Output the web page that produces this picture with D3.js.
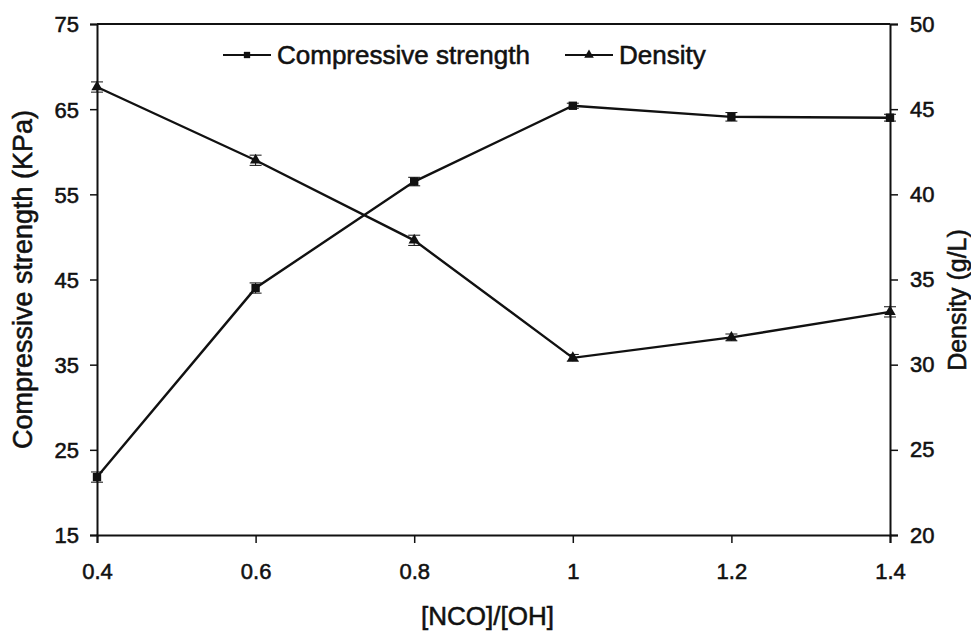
<!DOCTYPE html>
<html>
<head>
<meta charset="utf-8">
<script src="https://cdn.jsdelivr.net/npm/d3@7"></script>
<style>
  body { margin: 0; background: #fff; }
  text { font-family: "Liberation Sans", Arial, sans-serif; fill: #111; stroke: #111; stroke-width: 0.55px; }
</style>
</head>
<body>
<div class="viz"></div>
<script>
// data
var ratio = [0.4, 0.6, 0.8, 1.0, 1.2, 1.4]
var strength = [21.8, 44.0, 56.5, 65.4, 64.1, 64.0]
var strengthErr = [0.6, 0.6, 0.5, 0.3, 0.5, 0.4]
var density = [46.3, 42.0, 37.3, 30.4, 31.6, 33.1]
var densityErr = [0.3, 0.3, 0.3, 0.2, 0.2, 0.3]
var xTicks = [0.4, 0.6, 0.8, 1.0, 1.2, 1.4]
var leftTicks = [15, 25, 35, 45, 55, 65, 75]
var rightTicks = [20, 25, 30, 35, 40, 45, 50]

var W = 971, H = 633
var margin = {top: 24, right: 81, bottom: 98, left: 97},
    width = W - margin.left - margin.right,
    height = H - margin.top - margin.bottom

var svg = d3.select(".viz")
  .append("svg")
    .attr("width", W)
    .attr("height", H)
  .append("g")
    .attr("transform", "translate(" + margin.left + "," + margin.top + ")")

var x = d3.scaleLinear().domain([0.4, 1.4]).range([0, width])
var y = d3.scaleLinear().domain([15, 75]).range([height, 0])
var y2 = d3.scaleLinear().domain([20, 50]).range([height, 0])

// frame top line
svg.append("line")
  .attr("x1", 0).attr("x2", width).attr("y1", 0).attr("y2", 0)
  .attr("stroke", "#111").attr("stroke-width", 2)

function styleAxis(g) {
  g.select(".domain").attr("stroke", "#111").attr("stroke-width", 2)
  g.selectAll(".tick line").attr("stroke", "#111").attr("stroke-width", 1.5)
  g.selectAll(".tick text").style("font-size", "22px")
}

svg.append("g")
  .attr("transform", "translate(0," + height + ")")
  .call(d3.axisBottom(x).tickValues(xTicks).tickSizeOuter(0).tickSize(8).tickPadding(20)
    .tickFormat(d => d == 1 ? "1" : d3.format(".1f")(d)))
  .call(styleAxis)

svg.append("g")
  .call(d3.axisLeft(y).tickValues(leftTicks).tickSizeOuter(0).tickSize(7).tickPadding(11))
  .call(styleAxis)
  .selectAll(".tick text").attr("dy", "0.36em")

svg.append("g")
  .attr("transform", "translate(" + width + ",0)")
  .call(d3.axisRight(y2).tickValues(rightTicks).tickSizeOuter(0).tickSize(8).tickPadding(12))
  .call(styleAxis)

// axis titles
svg.append("text")
  .attr("transform", "translate(-74," + (height / 2) + ") rotate(-90)")
  .attr("text-anchor", "middle")
  .attr("dy", "0.35em")
  .style("font-size", "27px")
  .text("Compressive strength (KPa)")

svg.append("text")
  .attr("transform", "translate(" + (width + 67) + "," + (300 - margin.top) + ") rotate(-90)")
  .attr("text-anchor", "middle")
  .attr("dy", "0.35em")
  .style("font-size", "25px")
  .text("Density (g/L)")

svg.append("text")
  .attr("x", x(0.9) - 6)
  .attr("y", height + 90)
  .attr("text-anchor", "middle")
  .style("font-size", "26px")
  .text("[NCO]/[OH]")

var strengthData = ratio.map((r, i) => ({x: r, v: strength[i], e: strengthErr[i]}))
var densityData = ratio.map((r, i) => ({x: r, v: density[i], e: densityErr[i]}))

function drawSeries(data, scale, symbol, size) {
  var g = svg.append("g")
  g.append("path")
    .datum(data)
    .attr("fill", "none")
    .attr("stroke", "#111")
    .attr("stroke-width", 2.4)
    .attr("d", d3.line().x(d => x(d.x)).y(d => scale(d.v)))

  // error bars
  data.forEach(d => {
    var cx = x(d.x)
    g.append("line")
      .attr("x1", cx).attr("x2", cx)
      .attr("y1", scale(d.v - d.e)).attr("y2", scale(d.v + d.e))
      .attr("stroke", "#111").attr("stroke-width", 1)
    ;[d.v - d.e, d.v + d.e].forEach(v => {
      g.append("line")
        .attr("x1", cx - 6).attr("x2", cx + 6)
        .attr("y1", scale(v)).attr("y2", scale(v))
        .attr("stroke", "#111").attr("stroke-width", 1)
    })
  })

  g.selectAll("path.mark")
    .data(data)
    .join("path")
    .attr("class", "mark")
    .attr("transform", d => "translate(" + x(d.x) + "," + scale(d.v) + ")")
    .attr("d", d3.symbol().type(symbol).size(size))
    .attr("fill", "#111")
}

drawSeries(strengthData, y, d3.symbolSquare, 70)
drawSeries(densityData, y2, d3.symbolTriangle, 55)

// legend
var legend = svg.append("g")
var items = [
  {label: "Compressive strength", sym: d3.symbolSquare, size: 40, x0: 126},
  {label: "Density", sym: d3.symbolTriangle, size: 40, x0: 468}
]
items.forEach(it => {
  var lg = legend.append("g").attr("transform", "translate(" + it.x0 + ",31)")
  lg.append("line").attr("x1", 0).attr("x2", 48).attr("y1", 0).attr("y2", 0)
    .attr("stroke", "#111").attr("stroke-width", 2)
  lg.append("path").attr("transform", "translate(24,0)")
    .attr("d", d3.symbol().type(it.sym).size(it.size)).attr("fill", "#111")
  lg.append("text").attr("x", 54).attr("dy", "0.35em")
    .style("font-size", "26px").text(it.label)
})
</script>
</body>
</html>
